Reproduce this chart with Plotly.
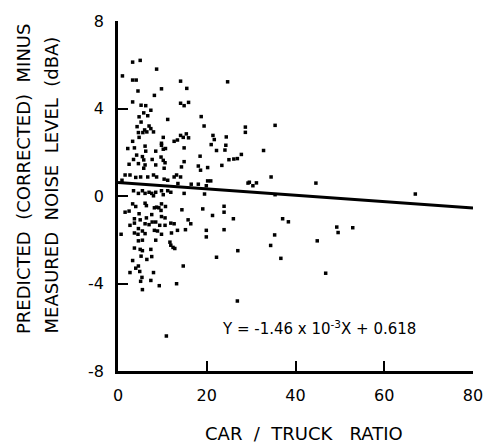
import plotly.graph_objects as go

# Car/truck ratio for each site
car_truck_ratio = [
    3.3, 5.0, 8.7, 1.0, 3.3, 4.1, 14.1, 9.8, 15.5, 4.5, 8.2, 3.3, 5.2, 6.25, 14.1, 14.9, 15.9,
    7.4, 5.8, 6.7, 4.75, 11.2, 18.75, 5.2, 19.4, 4.3, 7.0, 7.4, 6.0, 6.5, 5.6, 8.0, 4.6, 4.75,
    3.3, 10.2, 12.65, 13.4, 14.1, 14.7, 15.4, 15.9, 9.8,
    2.2, 3.7, 6.1, 6.25, 8.5, 9.8, 10.2, 10.7, 14.9, 4.2, 3.5, 2.5, 5.5, 5.8, 9.7, 10.2, 10.6,
    7.7, 4.6, 6.1, 5.8, 8.5, 10.4, 14.9, 18.5, 18.1, 18.6, 14.3, 20.2, 1.6, 2.7, 4.0, 5.1, 6.7,
    0.9, 8.0, 8.7, 10.4, 11.2, 12.65, 13.2, 14.1, 13.5, 16.5, 18.1, 20.2,
    3.5, 4.6, 5.5, 6.1, 7.0, 7.6, 8.0, 8.5, 9.8, 10.2, 11.2, 11.9, 14.9, 3.3, 4.0, 6.1, 6.4,
    8.2, 8.7, 9.2, 9.8, 10.7, 9.7, 14.4, 19.1, 1.6, 2.5, 4.75, 7.6, 9.8, 10.6, 3.7, 5.0, 6.4,
    7.7, 8.5, 6.1, 7.0, 11.9, 12.65, 15.8, 16.4, 2.7, 3.7, 9.4, 10.6, 4.6, 5.5, 8.2, 8.9, 3.7,
    4.5, 6.1, 9.8, 12.05, 13.4, 15.2, 19.9, 0.7, 4.6, 5.5, 8.5, 11.7, 19.9,
    3.7, 5.0, 5.5, 7.4, 11.9, 12.4, 12.8, 5.2, 7.6, 6.5, 3.3, 4.0, 4.6, 14.7, 2.7, 4.9, 8.0,
    5.4, 5.1, 7.4, 9.3, 13.2, 5.5, 10.9,
    24.7, 28.7, 28.7, 35.4, 21.4, 21.7, 24.4, 21.0, 24.3, 24.1, 22.2, 32.8, 25.0, 26.1, 26.9,
    27.8, 23.4, 34.5, 20.9, 19.9, 29.3, 29.6, 30.4, 31.2, 44.6, 67.0, 19.5, 35.4, 21.3, 23.9,
    23.9, 26.0, 37.1, 38.4, 23.9, 49.3, 49.6, 52.9, 35.3, 34.4, 44.9, 27.0, 22.2, 36.7, 46.8,
    26.9,
]

# Predicted (corrected) minus measured noise level, dBA
level_difference = [
    6.12, 6.2, 5.8, 5.49, 5.3, 5.3, 5.25, 4.9, 4.92, 4.8, 4.6, 4.3, 4.15, 4.13, 4.24, 4.13, 4.28,
    3.92, 3.8, 3.67, 3.62, 3.5, 3.63, 3.38, 3.2, 3.17, 3.2, 3.08, 3.02, 2.93, 2.9, 2.93, 2.9, 2.68,
    2.5, 2.68, 2.5, 2.56, 2.77, 2.68, 2.84, 2.66, 2.41,
    2.17, 2.2, 2.28, 2.05, 2.05, 2.32, 2.14, 2.17, 2.2, 1.87, 1.67, 1.45, 1.8, 1.65, 1.78, 1.63, 1.52,
    1.67, 1.48, 1.42, 1.27, 1.42, 1.27, 1.57, 1.82, 1.37, 1.18, 1.33, 1.3, 0.96, 0.96, 0.85, 0.87, 0.87,
    0.72, 0.96, 0.87, 0.77, 0.72, 0.87, 0.96, 0.87, 0.57, 0.54, 0.54, 0.69,
    0.24, 0.12, 0.24, 0.12, 0.17, 0.12, 0.01, 0.17, 0.24, 0.06, 0.24, 0.17, 0.12, -0.36, -0.48, -0.33, -0.44,
    -0.54, -0.51, -0.54, -0.36, -0.48, -0.66, -0.63, -0.59, -0.74, -0.69, -0.81, -0.85, -0.94, -1.0, -1.04, -1.09, -1.0,
    -1.19, -1.19, -1.27, -1.31, -1.24, -1.27, -1.09, -1.27, -1.34, -1.24, -1.34, -1.34, -1.49, -1.6, -1.57, -1.6, -1.69,
    -1.75, -1.72, -1.75, -1.69, -1.57, -1.54, -1.57, -1.75, -2.05, -2.02, -2.02, -2.11, -1.87,
    -2.38, -2.44, -2.5, -2.44, -2.25, -2.35, -2.4, -2.75, -2.77, -2.9, -2.95, -3.3, -3.2, -3.2, -3.5, -3.45, -3.5,
    -3.72, -3.9, -3.86, -4.1, -4.01, -4.28, -6.4,
    5.22, 3.15, 2.91, 3.23, 2.77, 2.58, 2.7, 2.35, 2.32, 2.1, 2.08, 2.08, 1.66, 1.69, 1.71,
    1.9, 1.4, 0.87, 0.69, 0.47, 0.59, 0.63, 0.47, 0.6, 0.59, 0.09, 0.09, 0.06, -0.89, -0.47,
    -0.74, -1.04, -1.04, -1.18, -1.54, -1.42, -1.67, -1.45, -1.78, -2.26, -2.05, -2.5, -2.8, -2.85, -3.53,
    -4.8,
]

# Least-squares fit
fit_intercept = 0.618
fit_slope = -1.46e-2
fit_x = [0, 80]
fit_y = [fit_intercept + fit_slope * v for v in fit_x]

x_ticks = [0, 20, 40, 60, 80]
x_tick_labels = ["0", "20", "40", "60", "80"]
y_ticks = [-8, -4, 0, 4, 8]
y_tick_labels = ["-8", "-4", "0", "4", "8"]

FONT = "DejaVu Sans"

fig = go.Figure()
fig.add_trace(go.Scatter(
    x=car_truck_ratio, y=level_difference, mode="markers",
    marker=dict(symbol="square", size=3.5, color="black", line=dict(width=0)),
    showlegend=False, hoverinfo="x+y",
))
fig.add_trace(go.Scatter(
    x=fit_x, y=fit_y, mode="lines",
    line=dict(color="black", width=3), showlegend=False,
))

axis_common = dict(
    showgrid=False, zeroline=False, showline=True, linecolor="black", linewidth=2.5,
    ticks="inside", ticklen=10, tickwidth=2, tickcolor="black",
    tickfont=dict(family=FONT, size=16, color="black"),
)

fig.update_layout(
    width=495, height=447,
    margin=dict(l=118, r=19, t=14, b=76),
    paper_bgcolor="white", plot_bgcolor="white",
    xaxis=dict(range=[0, 80], tickvals=x_ticks, ticktext=x_tick_labels,
               ticklabelstandoff=8, **axis_common),
    yaxis=dict(range=[-8, 8], tickvals=y_ticks, ticktext=y_tick_labels,
               ticklabelstandoff=8, **axis_common),
    annotations=[
        dict(text="PREDICTED  (CORRECTED)  MINUS", textangle=-90,
             xref="paper", yref="paper", x=0, y=0.10, xanchor="center", yanchor="bottom",
             xshift=-95, showarrow=False, font=dict(family=FONT, size=18, color="black")),
        dict(text="MEASURED  NOISE  LEVEL  (dBA)", textangle=-90,
             xref="paper", yref="paper", x=0, y=0.10, xanchor="center", yanchor="bottom",
             xshift=-67, showarrow=False, font=dict(family=FONT, size=18, color="black")),
        dict(text="CAR  /  TRUCK   RATIO", xref="paper", yref="paper", x=0.525, y=0,
             xanchor="center", yanchor="middle", yshift=-62, showarrow=False,
             font=dict(family=FONT, size=18, color="black")),
        dict(text="Y = -1.46 x 10<sup>-3</sup>X + 0.618", xref="x", yref="y", x=45.4, y=-6.05,
             xanchor="center", yanchor="middle", showarrow=False,
             font=dict(family=FONT, size=15, color="black")),
    ],
)

fig.write_html("out.html")
